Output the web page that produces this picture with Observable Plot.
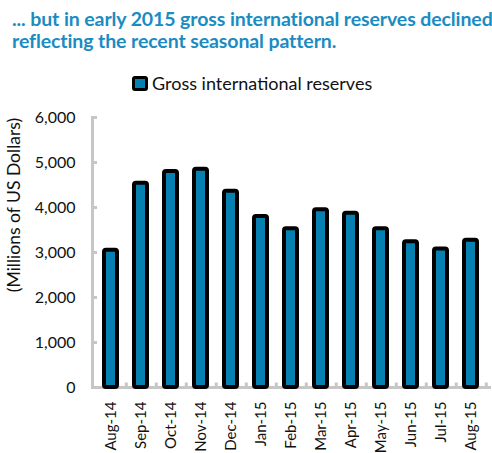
<!DOCTYPE html>
<html><head><meta charset="utf-8">
<script src="https://cdn.jsdelivr.net/npm/d3@7"></script>
<script src="https://cdn.jsdelivr.net/npm/@observablehq/plot@0.6"></script>
<style>
body{margin:0;background:#fff;font-family:Lato,"Open Sans",sans-serif;}
#title{position:absolute;left:12px;top:8px;font-weight:bold;font-size:19.5px;line-height:22px;color:#1a8cc2;letter-spacing:-0.1px;white-space:nowrap;}
#legend{position:absolute;left:132px;top:72px;font-size:18px;color:#111;display:flex;align-items:center;}
#legend .sw{width:10px;height:9px;background:#0580b0;border:3px solid #000;border-radius:3px;margin-right:4px;}
#ytitle{position:absolute;left:13px;top:205px;transform:translate(-50%,-50%) rotate(-90deg);font-size:17.5px;color:#111;white-space:nowrap;}
#chart{position:absolute;left:0;top:100px;}
</style></head>
<body>
<div id="title">... but in early 2015 gross international reserves declined<br>reflecting the recent seasonal pattern.</div>
<div id="legend"><span class="sw"></span><span>Gross international reserves</span></div>
<div id="chart"></div>
<div id="ytitle"></div>
<script>
const months = ["Aug-14","Sep-14","Oct-14","Nov-14","Dec-14","Jan-15","Feb-15","Mar-15","Apr-15","May-15","Jun-15","Jul-15","Aug-15"];
const reserves = [3050,4540,4800,4850,4360,3800,3530,3950,3870,3530,3240,3080,3270];
const yTicks = [0,1000,2000,3000,4000,5000,6000];
const yTitle = "(Millions of US Dollars)";
document.getElementById("ytitle").textContent = yTitle;
const data = months.map((m,i)=>({month:m, value:reserves[i]}));
const grey = "#c6c6c6";
const W = 492, ML = 92, MR = 3;
const step = (W - ML - MR) / months.length;
const plot = Plot.plot({
  width: W, height: 353,
  marginTop: 17, marginBottom: 66, marginLeft: ML, marginRight: MR,
  style: {fontFamily: "Lato, 'Open Sans', sans-serif", fontSize: "16px", color: "#111"},
  x: {domain: months, padding: 0.56, paddingOuter: 0.28, label: null},
  y: {domain: [0,6000], ticks: yTicks, label: null},
  marks: [
    Plot.frame({anchor: "left", stroke: grey, strokeWidth: 3}),
    Plot.frame({anchor: "bottom", stroke: grey, strokeWidth: 3}),
    Plot.ruleX(months, {x: d => d, dx: step / 2, y1: 0, y2: 100, stroke: grey, strokeWidth: 3}),
    Plot.axisY({ticks: yTicks, tickSize: -5, stroke: grey, strokeWidth: 3, text: null, label: null, strokeOpacity: 1}),
    Plot.axisY({ticks: yTicks, tickSize: 0, tickPadding: 17, tickFormat: d3.format(","), fontSize: 16, fill: "#111", label: null}),
    Plot.axisX({tickSize: 0, tickPadding: 14, tickRotate: -90, fontSize: 15, fill: "#111", label: null}),
    Plot.barY(data, {x: "month", y: "value", fill: "#0580b0", stroke: "#000", strokeWidth: 4, rx: 2})
  ]
});
document.getElementById("chart").appendChild(plot);
</script>
</body></html>
